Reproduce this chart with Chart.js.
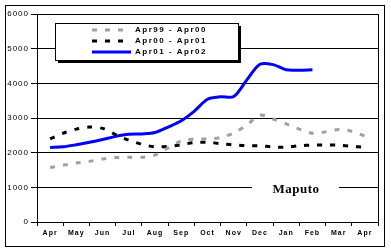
<!DOCTYPE html>
<html>
<head>
<meta charset="utf-8">
<script src="https://cdn.jsdelivr.net/npm/chart.js@4"></script>
<style>
  html, body { margin: 0; padding: 0; background: #fff; }
</style>
</head>
<body>
<canvas id="chart" width="391" height="252"></canvas>
<script>
// month labels, shown centred between the tick marks
const months = ['Apr', 'May', 'Jun', 'Jul', 'Aug', 'Sep', 'Oct', 'Nov', 'Dec', 'Jan', 'Feb', 'Mar', 'Apr'];
const seriesNames = ['Apr99 - Apr00', 'Apr00 - Apr01', 'Apr01 - Apr02'];
const placeName = 'Maputo';
const yMax = 6000;
const yStep = 1000;

// values every half month, starting mid-April
const apr99 = [1570, 1640, 1700, 1750, 1820, 1860, 1865, 1865, 1930, 2140, 2340, 2390, 2395,
               2440, 2570, 2800, 3080, 2970, 2830, 2680, 2560, 2600, 2670, 2620, 2480];
const apr00 = [2400, 2560, 2680, 2740, 2700, 2520, 2360, 2240, 2170, 2180, 2230, 2290, 2300,
               2260, 2225, 2200, 2200, 2165, 2160, 2200, 2220, 2220, 2215, 2180, 2160];
const apr01 = [2150, 2170, 2230, 2300, 2380, 2470, 2530, 2540, 2580, 2740, 2920, 3200, 3540,
               3610, 3620, 4100, 4550, 4540, 4390, 4380, 4390];

const toPoints = (vals) => vals.map((v, i) => ({ x: i / 2, y: v }));

const FONT = 'Liberation Sans';

const spacing = {
  id: 'spacing',
  beforeInit(chart) { chart.ctx.letterSpacing = '1px'; },
  beforeDraw(chart) { chart.ctx.letterSpacing = '1px'; },
};

const frame = {
  id: 'frame',
  afterDraw(chart) {
    const { ctx, chartArea: a } = chart;
    ctx.save();
    ctx.strokeStyle = '#000';
    ctx.lineWidth = 1;
    ctx.strokeRect(5.5, 5.5, 379, 241);
    ctx.beginPath();
    ctx.moveTo(Math.round(a.right) + 0.5, a.top);
    ctx.lineTo(Math.round(a.right) + 0.5, a.bottom);
    ctx.stroke();
    ctx.restore();
  },
};

const legendBox = {
  id: 'legendBox',
  afterDatasetsDraw(chart) {
    const ctx = chart.ctx;
    const x = 55, y = 23, w = 183, h = 37;
    ctx.save();
    ctx.fillStyle = '#000';
    ctx.fillRect(x + 3, y + 3, w, h);
    ctx.fillStyle = '#fff';
    ctx.fillRect(x, y, w, h);
    ctx.strokeStyle = '#000';
    ctx.lineWidth = 1;
    ctx.strokeRect(x + 0.5, y + 0.5, w, h);
    const rows = [30, 41, 52];
    chart.data.datasets.forEach((ds, i) => {
      ctx.beginPath();
      ctx.strokeStyle = ds.borderColor;
      ctx.lineWidth = ds.borderWidth;
      ctx.setLineDash(ds.borderDash || []);
      ctx.moveTo(92, rows[i]);
      ctx.lineTo(i === 2 ? 131 : 128, rows[i]);
      ctx.stroke();
      ctx.setLineDash([]);
      ctx.fillStyle = '#000';
      ctx.font = 'bold 8px ' + FONT;
      ctx.letterSpacing = '1.5px';
      ctx.textBaseline = 'middle';
      ctx.fillText(ds.label, 135, rows[i]);
    });
    ctx.restore();
  },
};

const placeLabel = {
  id: 'placeLabel',
  afterDatasetsDraw(chart) {
    const ctx = chart.ctx;
    ctx.save();
    ctx.fillStyle = '#fff';
    ctx.fillRect(252, 182, 87, 16);
    ctx.fillStyle = '#000';
    ctx.font = 'bold 13px "Liberation Serif"';
    ctx.letterSpacing = '0.5px';
    ctx.textAlign = 'center';
    ctx.textBaseline = 'middle';
    ctx.fillText(placeName, 296, 190);
    ctx.restore();
  },
};

new Chart(document.getElementById('chart'), {
  type: 'line',
  data: {
    datasets: [
      {
        label: seriesNames[0],
        data: toPoints(apr99),
        borderColor: '#a0a0a0',
        borderWidth: 3,
        borderDash: [5, 8],
        tension: 0.3,
        pointRadius: 0,
        xAxisID: 'xv',
      },
      {
        label: seriesNames[1],
        data: toPoints(apr00),
        borderColor: '#000',
        borderWidth: 3,
        borderDash: [5, 8],
        tension: 0.3,
        pointRadius: 0,
        xAxisID: 'xv',
      },
      {
        label: seriesNames[2],
        data: toPoints(apr01),
        borderColor: '#0000ff',
        borderWidth: 3,
        tension: 0.3,
        pointRadius: 0,
        xAxisID: 'xv',
      },
    ],
  },
  options: {
    responsive: false,
    devicePixelRatio: 1,
    animation: false,
    layout: { padding: { top: 14, right: 13, left: 0, bottom: 0 } },
    plugins: {
      legend: { display: false },
      tooltip: { enabled: false },
    },
    scales: {
      x: {
        type: 'category',
        labels: months,
        offset: true,
        grid: { offset: true, drawOnChartArea: false, color: '#000', tickLength: 4 },
        border: { color: '#000' },
        ticks: {
          color: '#000',
          autoSkip: false,
          maxRotation: 0,
          padding: 3,
          font: { family: FONT, size: 7, weight: 'bold' },
        },
        afterFit(scale) { scale.height = 30; },
      },
      xv: {
        type: 'linear',
        display: false,
        min: -0.5,
        max: 12.5,
      },
      y: {
        min: 0,
        max: yMax,
        ticks: {
          stepSize: yStep,
          color: '#000',
          padding: 2,
          font: { family: FONT, size: 8 },
          callback: (v) => String(v),
        },
        grid: { color: '#000', tickLength: 6 },
        border: { color: '#000' },
        afterFit(scale) { scale.width = 37; },
      },
    },
  },
  plugins: [spacing, legendBox, placeLabel, frame],
});
</script>
</body>
</html>
